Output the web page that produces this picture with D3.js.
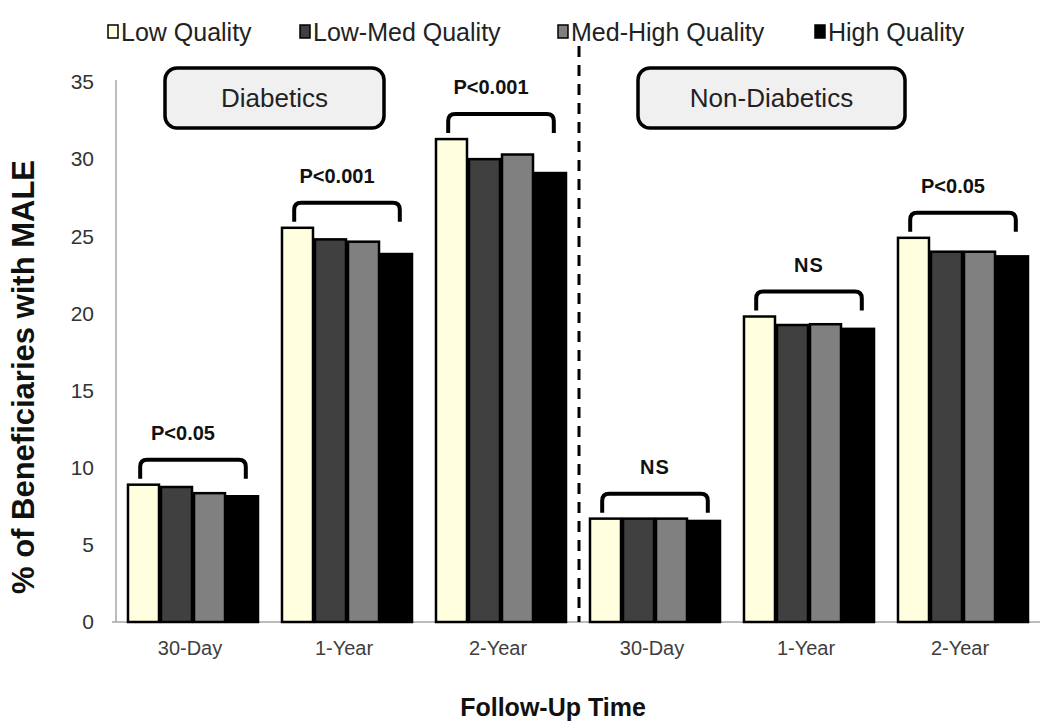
<!DOCTYPE html>
<html>
<head>
<meta charset="utf-8">
<script src="https://cdn.jsdelivr.net/npm/d3@7"></script>
<style>
  html, body { margin: 0; padding: 0; background: #fff; }
  svg { display: block; font-family: "Liberation Sans", Arial, sans-serif; }
</style>
</head>
<body>
<svg id="chart" width="1050" height="725"></svg>
<script>
// ---- Data ----
const timepoints = ["30-Day", "1-Year", "2-Year", "30-Day", "1-Year", "2-Year"];
const cohorts = ["Diabetics", "Diabetics", "Diabetics", "Non-Diabetics", "Non-Diabetics", "Non-Diabetics"];
const seriesNames = ["Low Quality", "Low-Med Quality", "Med-High Quality", "High Quality"];
const lowQuality     = [8.9, 25.55, 31.3, 6.7, 19.8, 24.9];
const lowMedQuality  = [8.75, 24.8, 30.0, 6.7, 19.25, 24.0];
const medHighQuality = [8.35, 24.65, 30.3, 6.7, 19.3, 24.0];
const highQuality    = [8.15, 23.85, 29.1, 6.55, 19.0, 23.7];
const pLabels = ["P<0.05", "P<0.001", "P<0.001", "NS", "NS", "P<0.05"];
const yTicks = [0, 5, 10, 15, 20, 25, 30, 35];
const seriesColors = ["#ffffe0", "#404040", "#808080", "#000000"];
const yTitle = "% of Beneficiaries with MALE";
const xTitle = "Follow-Up Time";

const seriesValues = [lowQuality, lowMedQuality, medHighQuality, highQuality];

// ---- Layout ----
const svg = d3.select("#chart");
svg.append("rect").attr("width", 1050).attr("height", 725).attr("fill", "#fff");

const plotL = 116, plotR = 1040, plotT = 82, plotB = 622;
const idx = timepoints.map((d, i) => i);

const x0 = d3.scaleBand().domain(idx).range([plotL, plotR]).padding(0);
const x1 = d3.scaleBand().domain(d3.range(seriesNames.length))
  .range([0, x0.bandwidth()]).paddingInner(0).paddingOuter(0.333);
const y = d3.scaleLinear().domain([0, 35]).range([plotB, plotT]);

// Axes
const yAxis = svg.append("g").attr("transform", `translate(${plotL},0)`)
  .call(d3.axisLeft(y).tickValues(yTicks).tickSize(0).tickPadding(22));
yAxis.select(".domain").attr("stroke", "#a6a6a6").attr("stroke-width", 1.5)
  .attr("d", `M0,${y(35) - 2}V${plotB}`);
yAxis.selectAll("text").attr("font-size", 21).attr("fill", "#333")
  .attr("font-family", "'Liberation Sans', Arial, sans-serif");

const xAxis = svg.append("g").attr("transform", `translate(0,${plotB})`)
  .call(d3.axisBottom(x0).tickSize(0).tickPadding(19).tickFormat(i => timepoints[i]));
xAxis.select(".domain").attr("stroke", "#a6a6a6").attr("stroke-width", 1.5)
  .attr("d", `M${plotL - 4},0H${plotR}`);
xAxis.selectAll("text").attr("font-size", 20).attr("fill", "#404040")
  .attr("dx", -3)
  .attr("font-family", "'Liberation Sans', Arial, sans-serif");

// Bars
const groups = svg.append("g").selectAll("g").data(idx).join("g")
  .attr("transform", i => `translate(${x0(i)},0)`);
groups.selectAll("rect")
  .data(i => seriesValues.map((vals, s) => ({ s, v: vals[i] })))
  .join("rect")
  .attr("x", d => x1(d.s) + 1)
  .attr("width", x1.bandwidth() - 2)
  .attr("y", d => y(d.v))
  .attr("height", d => y(0) - y(d.v))
  .attr("fill", d => seriesColors[d.s])
  .attr("stroke", "#000")
  .attr("stroke-width", 2.5);

// Significance brackets
const bw = x1.bandwidth();
idx.forEach(i => {
  const maxV = d3.max(seriesValues, vals => vals[i]);
  const ym = y(maxV);
  const xa = x0(i) + x1(0) + bw * 0.4;
  const xb = x0(i) + x1(seriesNames.length - 1) + bw * 0.6;
  const yt = ym - 25, yl = ym - 6, r = 7;
  svg.append("path")
    .attr("d", `M${xa},${yl}V${yt + r}Q${xa},${yt} ${xa + r},${yt}H${xb - r}Q${xb},${yt} ${xb},${yt + r}V${yl}`)
    .attr("fill", "none").attr("stroke", "#000").attr("stroke-width", 4);
  const isP = pLabels[i].startsWith("P");
  svg.append("text")
    .attr("x", (xa + xb) / 2 + (isP ? -10 : 0))
    .attr("y", ym - 45)
    .attr("text-anchor", "middle")
    .attr("font-size", 20).attr("font-weight", "bold")
    .attr("letter-spacing", isP ? 0 : 1)
    .attr("fill", "#111")
    .text(pLabels[i]);
});

// Divider
const divX = (x0(2) + x0.bandwidth() + x0(3)) / 2 + 1;
svg.append("line").attr("x1", divX).attr("x2", divX).attr("y1", 46).attr("y2", plotB)
  .attr("stroke", "#000").attr("stroke-width", 3).attr("stroke-dasharray", "11,8");

// Cohort boxes (anchored to the first and second category of each cohort)
const cohortNames = Array.from(new Set(cohorts));
const boxSpans = [[165, 384], [638, 905]];
cohortNames.forEach((c, k) => {
  const [bx0, bx1] = boxSpans[k];
  const cx = (bx0 + bx1) / 2;
  svg.append("rect").attr("x", bx0).attr("y", 68).attr("width", bx1 - bx0).attr("height", 60)
    .attr("rx", 12).attr("fill", "#f0f0f0").attr("stroke", "#000").attr("stroke-width", 3.5);
  svg.append("text").attr("x", cx).attr("y", 107).attr("text-anchor", "middle")
    .attr("font-size", 26).attr("fill", "#222").text(c);
});

// Legend
const legendX = [108, 300, 558, 815];
const legend = svg.append("g");
seriesNames.forEach((n, s) => {
  legend.append("rect").attr("x", legendX[s]).attr("y", 25).attr("width", 10).attr("height", 13)
    .attr("fill", seriesColors[s]).attr("stroke", "#000").attr("stroke-width", 1.5);
  legend.append("text").attr("x", legendX[s] + 13).attr("y", 41)
    .attr("font-size", 25).attr("fill", "#222").text(n);
});

// Axis titles
svg.append("text").attr("transform", `translate(34,377) rotate(-90)`)
  .attr("text-anchor", "middle").attr("font-size", 31).attr("font-weight", "bold")
  .attr("fill", "#111").text(yTitle);
svg.append("text").attr("x", 553).attr("y", 716).attr("text-anchor", "middle")
  .attr("font-size", 25).attr("font-weight", "bold").attr("fill", "#111").text(xTitle);
</script>
</body>
</html>
